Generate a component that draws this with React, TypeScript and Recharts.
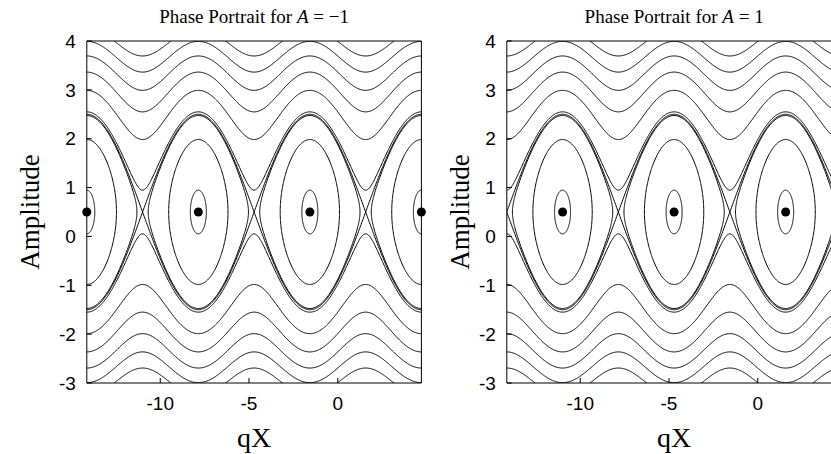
import React from 'react';
import { LineChart, Line, XAxis, YAxis, ReferenceDot } from 'recharts';

const PI = Math.PI;

// axis ranges and ticks
const xDomain = [-4.5 * PI, 1.5 * PI];
const yDomain = [-3, 4];
const xTicks = [-10, -5, 0];
const yTicks = [-3, -2, -1, 0, 1, 2, 3, 4];

// H = (amp - 0.5)^2 - 2 A sin(qX); levels of H that get drawn
const ampCentre = 0.5;
const wellDepth = 2;
const closedLevels = [-1.8, 0.2, 1.9];
const openLevels = [2.0, 2.2, 4.2, 6.2, 8.2, 10.2, 12.2];

// elliptic fixed points of each portrait
const centresMinus = [-4.5 * PI, -2.5 * PI, -0.5 * PI, 1.5 * PI];
const centresPlus = [-3.5 * PI, -1.5 * PI, 0.5 * PI];

const serif = '"Liberation Serif", "DejaVu Serif", serif';
const sans = '"Liberation Sans", Arial, sans-serif';

type Pt = { x: number; y: number };

// closed orbit around a centre, traced upper half then lower half
function orbit(c: number, h: number, n = 160): Pt[] {
  const w = Math.acos(-h / wellDepth);
  const pts: Pt[] = [];
  for (let i = 0; i <= n; i++) {
    const u = -w * Math.cos((PI * i) / n);
    pts.push({ x: c + u, y: ampCentre + Math.sqrt(Math.max(0, h + wellDepth * Math.cos(u))) });
  }
  for (let i = n; i >= 0; i--) {
    const u = -w * Math.cos((PI * i) / n);
    pts.push({ x: c + u, y: ampCentre - Math.sqrt(Math.max(0, h + wellDepth * Math.cos(u))) });
  }
  return pts;
}

// running (open) branch across the whole window
function branch(a: number, h: number, sign: number, n = 600): Pt[] {
  const pts: Pt[] = [];
  for (let i = 0; i <= n; i++) {
    const x = xDomain[0] + ((xDomain[1] - xDomain[0]) * i) / n;
    const r = Math.sqrt(Math.max(0, h + wellDepth * a * Math.sin(x)));
    pts.push({ x, y: ampCentre + sign * r });
  }
  return pts;
}

const Title = ({ viewBox, a }: any) => (
  <text x={viewBox.x + viewBox.width / 2} y={23} textAnchor="middle" fontFamily={serif} fontSize={19} fill="#000">
    Phase Portrait for <tspan fontStyle="italic">A</tspan> = {a < 0 ? '\u2212' : ''}1
  </text>
);

const XTitle = ({ viewBox }: any) => (
  <text x={viewBox.x + viewBox.width / 2} y={447} textAnchor="middle" fontFamily={serif} fontSize={28} fill="#000">
    qX
  </text>
);

const YTitle = ({ viewBox, shift }: any) => {
  const cx = 39 + (shift || 0);
  const cy = viewBox.y + viewBox.height / 2;
  return (
    <text x={cx} y={cy} transform={`rotate(-90, ${cx}, ${cy})`} textAnchor="middle" fontFamily={serif} fontSize={27} fill="#000">
      Amplitude
    </text>
  );
};

const Portrait = ({ a, centres, labelShift }: { a: number; centres: number[]; labelShift: number }) => {
  const curves: Pt[][] = [];
  centres.forEach((c) => closedLevels.forEach((h) => curves.push(orbit(c, h))));
  openLevels.forEach((h) => {
    curves.push(branch(a, h, 1));
    curves.push(branch(a, h, -1));
  });
  const tickStyle = { fontFamily: sans, fontSize: 19, fill: '#000' };

  return (
    <LineChart width={440} height={454} margin={{ top: 40, right: 17.6, bottom: 41, left: 46.8 }}>
      <XAxis
        xAxisId={0}
        dataKey="x"
        type="number"
        domain={xDomain}
        allowDataOverflow
        ticks={xTicks}
        tickSize={-5}
        tickMargin={19}
        height={30}
        stroke="#000"
        tick={tickStyle}
        label={<XTitle />}
      />
      <XAxis
        xAxisId="top"
        orientation="top"
        type="number"
        domain={xDomain}
        allowDataOverflow
        ticks={xTicks}
        tickSize={-5}
        height={1}
        stroke="#000"
        tick={false}
        label={<Title a={a} />}
      />
      <YAxis
        yAxisId={0}
        type="number"
        domain={yDomain}
        allowDataOverflow
        ticks={yTicks}
        tickSize={-5}
        tickMargin={16}
        width={40}
        stroke="#000"
        tick={tickStyle}
        label={<YTitle shift={labelShift} />}
      />
      <YAxis
        yAxisId="right"
        orientation="right"
        type="number"
        domain={yDomain}
        allowDataOverflow
        ticks={yTicks}
        tickSize={-5}
        width={1}
        stroke="#000"
        tick={false}
      />
      {curves.map((pts, i) => (
        <Line
          key={i}
          data={pts}
          dataKey="y"
          type="linear"
          stroke="#000"
          strokeWidth={1}
          dot={false}
          activeDot={false}
          isAnimationActive={false}
        />
      ))}
      {centres.map((c) => (
        <ReferenceDot key={c} x={c} y={ampCentre} r={4.5} fill="#000" stroke="none" ifOverflow="visible" />
      ))}
    </LineChart>
  );
};

export default function App() {
  return (
    <div style={{ position: 'fixed', left: 0, top: 0, width: 831, height: 454, overflow: 'hidden', background: '#fff' }}>
      <div style={{ position: 'absolute', left: 0, top: 0 }}>
        <Portrait a={-1} centres={centresMinus} labelShift={0} />
      </div>
      <div style={{ position: 'absolute', left: 420, top: 0 }}>
        <Portrait a={1} centres={centresPlus} labelShift={10} />
      </div>
    </div>
  );
}
